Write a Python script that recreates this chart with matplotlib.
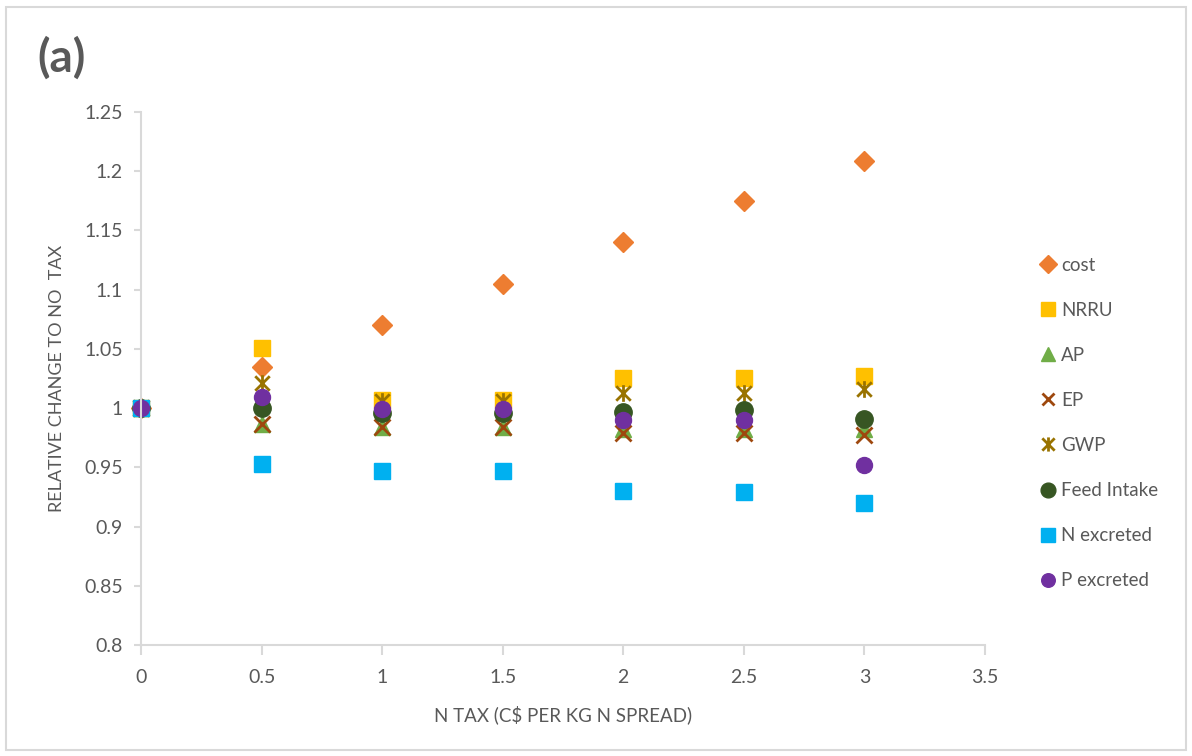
import matplotlib
matplotlib.use("Agg")
import matplotlib.pyplot as plt
from matplotlib.path import Path
from matplotlib.patches import Rectangle

plt.rcParams['font.family'] = ['Lato', 'DejaVu Sans']

# N tax levels (C$ per kg N spread)
tax = [0, 0.5, 1, 1.5, 2, 2.5, 3]

# relative change to the no-tax scenario
cost = [1.000, 1.035, 1.070, 1.105, 1.140, 1.175, 1.209]
nrru = [1.000, 1.051, 1.007, 1.007, 1.025, 1.025, 1.027]
ap = [1.000, 0.987, 0.984, 0.984, 0.982, 0.982, 0.982]
ep = [1.000, 0.987, 0.984, 0.984, 0.979, 0.979, 0.977]
gwp = [1.000, 1.021, 1.006, 1.006, 1.013, 1.013, 1.016]
feed_intake = [1.000, 1.000, 0.996, 0.996, 0.997, 0.998, 0.991]
n_excreted = [1.000, 0.953, 0.947, 0.947, 0.930, 0.929, 0.920]
p_excreted = [1.000, 1.009, 0.999, 0.999, 0.990, 0.990, 0.952]

yticks = [0.8, 0.85, 0.9, 0.95, 1, 1.05, 1.1, 1.15, 1.2, 1.25]
ytick_labels = ['0.8', '0.85', '0.9', '0.95', '1', '1.05', '1.1', '1.15', '1.2', '1.25']
xticks = [0, 0.5, 1, 1.5, 2, 2.5, 3, 3.5]
xtick_labels = ['0', '0.5', '1', '1.5', '2', '2.5', '3', '3.5']

# asterisk marker: an x with a vertical bar through it
star = Path([(-1, -1), (1, 1), (-1, 1), (1, -1), (0, -1.15), (0, 1.15)],
            [Path.MOVETO, Path.LINETO, Path.MOVETO, Path.LINETO, Path.MOVETO, Path.LINETO])

grey = '#595959'
axis_grey = '#d9d9d9'

fig = plt.figure(figsize=(11.92, 7.56), dpi=100)
ax = fig.add_axes([0.1183, 0.1468, 0.7080, 0.7051])

ax.plot(tax, cost, 'D', ms=10.5, color='#ED7D31', label='cost')
ax.plot(tax, nrru, 's', ms=12, color='#FFC000', label='NRRU')
ax.plot(tax, ap, '^', ms=12, color='#70AD47', label='AP')
ax.plot(tax, ep, 'x', ms=11, mew=2, color='#9E480E', label='EP')
ax.plot(tax, gwp, marker=star, ls='none', ms=12, mew=2, mfc='none', color='#997300', label='GWP')
ax.plot(tax, feed_intake, 'o', ms=12.5, color='#375623', label='Feed Intake')
ax.plot(tax, n_excreted, 's', ms=12, color='#00B0F0', label='N excreted')
ax.plot(tax, p_excreted, 'o', ms=11.5, color='#7030A0', label='P excreted')

ax.set_xlim(0, 3.5)
ax.set_ylim(0.8, 1.25)
ax.set_xticks(xticks)
ax.set_xticklabels(xtick_labels)
ax.set_yticks(yticks)
ax.set_yticklabels(ytick_labels)

for side in ['top', 'right']:
    ax.spines[side].set_visible(False)
for side in ['left', 'bottom']:
    ax.spines[side].set_color(axis_grey)
    ax.spines[side].set_linewidth(1.5)
ax.tick_params(axis='both', colors=axis_grey, labelcolor=grey, labelsize=14, width=1.5)
ax.tick_params(axis='x', length=7, pad=10)
ax.tick_params(axis='y', length=5, pad=8)
for line in ax.lines:
    line.set_clip_on(False)

ax.set_xlabel('N TAX (C$ PER KG N SPREAD)', fontsize=13.5, color=grey, labelpad=14)
ax.set_ylabel('RELATIVE CHANGE TO NO  TAX', fontsize=13, color=grey, labelpad=14)

fig.text(0.031, 0.923, '(a)', fontsize=33, fontweight='bold', color=grey, va='center')

leg = fig.legend(loc='upper left', bbox_to_anchor=(0.8585, 0.683), frameon=False,
                 fontsize=13.5, numpoints=1, handlelength=0.8, handletextpad=0.3,
                 labelspacing=1.5, markerscale=0.85)
for t in leg.get_texts():
    t.set_color(grey)

# thin border round the whole chart area
fig.patches.append(Rectangle((0.005, 0.008), 0.99, 0.983, transform=fig.transFigure,
                             fill=False, edgecolor=axis_grey, linewidth=1.5))

fig.savefig('out.png', dpi=100)
